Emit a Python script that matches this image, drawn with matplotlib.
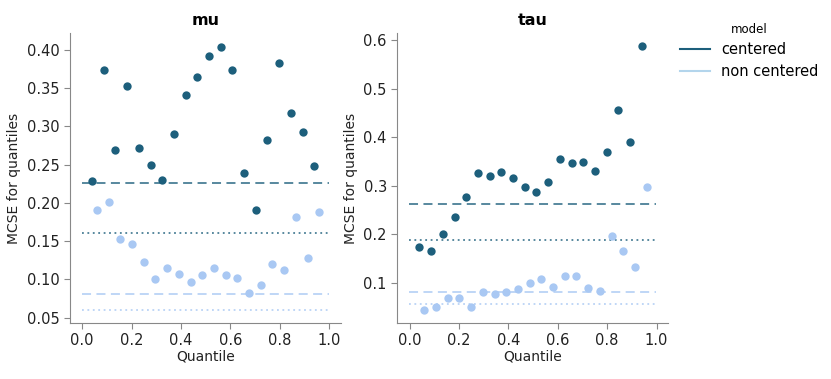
import numpy as np
import matplotlib
matplotlib.use("Agg")
import matplotlib.pyplot as plt
from matplotlib.lines import Line2D

# datos
probs = np.linspace(0.05, 0.95, 20)
modelos = ["centered", "non centered"]
colores = ["#1d5f7c", "#a9c8f3"]
colores_leyenda = ["#1d5f7c", "#b3d5ec"]

mu_centered = [0.228, 0.373, 0.269, 0.353, 0.272, 0.249, 0.230, 0.290, 0.341, 0.364,
               0.392, 0.404, 0.374, 0.239, 0.190, 0.282, 0.383, 0.318, 0.292, 0.248]
mu_noncentered = [0.190, 0.201, 0.153, 0.146, 0.123, 0.100, 0.115, 0.107, 0.097, 0.106,
                  0.115, 0.105, 0.102, 0.082, 0.093, 0.120, 0.112, 0.181, 0.128, 0.188]
tau_centered = [0.174, 0.165, 0.200, 0.236, 0.276, 0.326, 0.320, 0.328, 0.315, 0.298,
                0.286, 0.308, 0.355, 0.346, 0.349, 0.330, 0.369, 0.457, 0.390, 0.588]
tau_noncentered = [0.044, 0.050, 0.069, 0.069, 0.050, 0.080, 0.076, 0.080, 0.086, 0.100,
                   0.107, 0.092, 0.113, 0.113, 0.089, 0.083, 0.197, 0.165, 0.133, 0.297]

# lineas: mcse de la media (dashed) y de la sd (dotted)
mu_mean = [0.226, 0.081]
mu_sd = [0.160, 0.060]
tau_mean = [0.263, 0.081]
tau_sd = [0.187, 0.057]

mu_yticks = [0.05, 0.10, 0.15, 0.20, 0.25, 0.30, 0.35, 0.40]
tau_yticks = [0.1, 0.2, 0.3, 0.4, 0.5, 0.6]
xticks = [0.0, 0.2, 0.4, 0.6, 0.8, 1.0]

variables = ["mu", "tau"]
valores = {"mu": [mu_centered, mu_noncentered], "tau": [tau_centered, tau_noncentered]}
lineas = {"mu": [mu_mean, mu_sd], "tau": [tau_mean, tau_sd]}
yticks = {"mu": mu_yticks, "tau": tau_yticks}
ylims = {"mu": (0.043, 0.422), "tau": (0.017, 0.615)}
offsets = [-0.01, 0.01]

fig = plt.figure(figsize=(8.31, 3.79), dpi=100)
posiciones = [[0.084, 0.148, 0.326, 0.765], [0.478, 0.148, 0.326, 0.765]]

for var, pos in zip(variables, posiciones):
    ax = fig.add_axes(pos)
    for i in range(2):
        ax.scatter(probs + offsets[i], valores[var][i], s=36, color=colores[i], zorder=3, linewidths=0)
        ax.axhline(lineas[var][0][i], xmin=0.045, xmax=0.955, color=colores[i], ls=(0, (5, 3)), lw=1.3, alpha=0.8)
        ax.axhline(lineas[var][1][i], xmin=0.045, xmax=0.955, color=colores[i], ls=(0, (1, 2)), lw=1.3, alpha=0.8)
    ax.set_xlim(-0.05, 1.047)
    ax.set_ylim(*ylims[var])
    ax.set_xticks(xticks)
    ax.set_yticks(yticks[var])
    ax.set_title(var, fontsize=11.5, fontweight="bold")
    ax.set_xlabel("Quantile", fontsize=10, labelpad=1, color="#222222")
    ax.set_ylabel("MCSE for quantiles", fontsize=10, color="#222222")
    ax.tick_params(labelsize=10.5, labelcolor="#222222", color="#888888", length=4)
    ax.spines["top"].set_visible(False)
    ax.spines["right"].set_visible(False)
    ax.spines["left"].set_color("#888888")
    ax.spines["bottom"].set_color("#888888")

handles = [Line2D([0], [0], color=c, lw=1.5) for c in colores_leyenda]
leg = fig.legend(handles, modelos, title="model", loc="upper left",
                 bbox_to_anchor=(0.803, 0.975), frameon=False, fontsize=10.5,
                 title_fontsize=8.5, handlelength=2.0, labelspacing=0.45)

fig.savefig("out.png", dpi=100)
